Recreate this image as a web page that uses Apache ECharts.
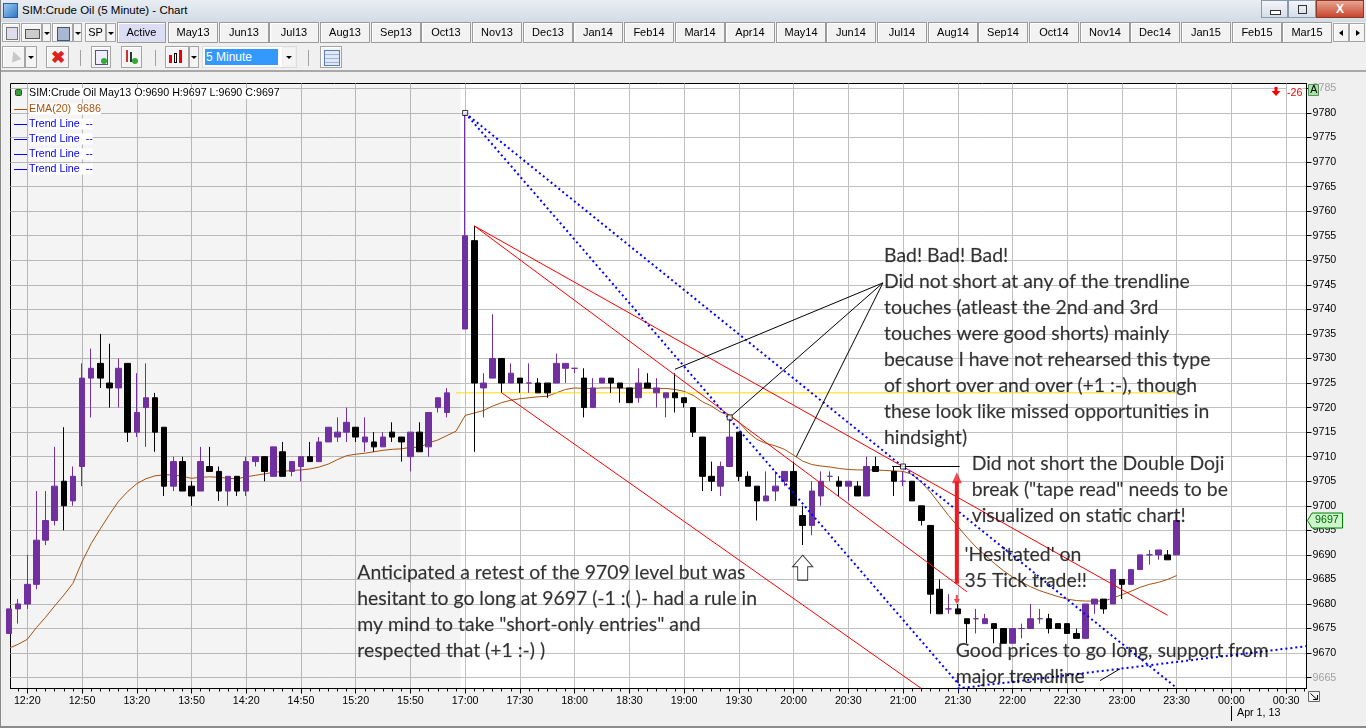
<!DOCTYPE html>
<html>
<head>
<meta charset="utf-8">
<title>SIM:Crude Oil (5 Minute) - Chart</title>
<script src="https://cdn.jsdelivr.net/npm/echarts@6/dist/echarts.min.js"></script>
<style>
  html, body { margin: 0; padding: 0; }
  body { width: 1366px; height: 728px; overflow: hidden; position: relative; background: #f0f0f0;
         font-family: "Liberation Sans", Arial, sans-serif; }
  #chart { position: absolute; left: 0; top: 0; width: 1366px; height: 728px; }
  .ui { position: absolute; box-sizing: border-box; z-index: 5; }
  .wbtn { top: 0; height: 18px; border: 1px solid #8a99ad; background: linear-gradient(#f3f6fa, #d6dee8); }
  .tab { top: 22px; height: 21px; border: 1px solid #9b9b9b; background: #f2f2f2; text-align: center;
         font-size: 11px; line-height: 19px; color: #000; box-shadow: inset 1px 1px 0 #fff; }
  .btn { border: 1px solid #a5a5a5; background: #f4f4f4; box-shadow: inset 1px 1px 0 #fff; }
  .dd { border: 1px solid #a5a5a5; background: #f4f4f4; }
  .dd:after { content: ""; position: absolute; left: 50%; top: 50%; margin: -1px 0 0 -3px;
              border-left: 3px solid transparent; border-right: 3px solid transparent; border-top: 3px solid #000; }
  .sep { width: 1px; background: #a0a0a0; top: 50px; height: 16px; }
</style>
</head>
<body>
<div id="chart"></div>
<div id="ui"></div>
<script>
// ---------------- chart values ----------------
// one entry per 5-minute bar, index 0 = 12:10 ; null = no bar drawn
// [open, high, low, close]
var ohlc = [
  [9674, 9679, 9674, 9679], [9679, 9681, 9676, 9680], [9680, 9690, 9679, 9684], [9684, 9703, 9683, 9693],
  [9693, 9703, 9692, 9697], [9697, 9712, 9696, 9704], [9705, 9716, 9695, 9700], [9701, 9708, 9700, 9706],
  [9708, 9729, 9704, 9726], [9726, 9732, 9718, 9728], [9729, 9735, 9724, 9726], [9725, 9733, 9720, 9724],
  [9724, 9730, 9720, 9728], [9729, 9729, 9713, 9715], [9715, 9727, 9714, 9719], [9720, 9729, 9712, 9722],
  [9722, 9723, 9711, 9715], [9716, 9716, 9702, 9704], [9704, 9710, 9703, 9709], [9709, 9710, 9703, 9703],
  [9704, 9705, 9700, 9702], [9703, 9712, 9703, 9709], [9708, 9712, 9707, 9707], [9707, 9708, 9701, 9703],
  [9703, 9706, 9700, 9706], [9706, 9706, 9702, 9703], [9703, 9710, 9702, 9709], [9709, 9710, 9708, 9710],
  [9710, 9710, 9705, 9707], [9706, 9712, 9706, 9712], [9711, 9713, 9706, 9706], [9707, 9709, 9706, 9709],
  [9708, 9710, 9705, 9710], [9710, 9713, 9709, 9709], [9709, 9714, 9709, 9713], [9713, 9716, 9713, 9716],
  [9714, 9718, 9713, 9715], [9715, 9720, 9713, 9717], [9716, 9716, 9713, 9714], [9713, 9718, 9711, 9714],
  [9713, 9715, 9711, 9712], [9712, 9715, 9712, 9714], [9715, 9717, 9713, 9714], [9714, 9714, 9709, 9713],
  [9710, 9715, 9707, 9715], [9715, 9717, 9711, 9711], [9712, 9719, 9710, 9719], [9720, 9722, 9719, 9722],
  [9719, 9724, 9718, 9723], null,
  [9736, 9780, 9736, 9755], [9754, 9757, 9711, 9725], [9724, 9727, 9718, 9725], [9726, 9739, 9726, 9730],
  [9730, 9730, 9723, 9725], [9725, 9729, 9725, 9727], [9726, 9726, 9723, 9725], [9725, 9729, 9723, 9725],
  [9725, 9726, 9723, 9723], [9725, 9725, 9722, 9723], [9725, 9731, 9725, 9729], [9728, 9729, 9725, 9729],
  [9728, 9728, 9727, 9728], [9726, 9728, 9718, 9720], [9720, 9726, 9720, 9724], [9725, 9726, 9725, 9726],
  [9726, 9726, 9723, 9725], [9725, 9725, 9721, 9724], [9724, 9724, 9721, 9721], [9722, 9728, 9721, 9725],
  [9725, 9727, 9724, 9724], [9723, 9726, 9720, 9724], [9722, 9723, 9718, 9723], [9723, 9727, 9719, 9722],
  [9722, 9722, 9720, 9721], [9720, 9720, 9714, 9715], [9714, 9714, 9703, 9706], [9706, 9709, 9703, 9705],
  [9704, 9709, 9702, 9708], [9708, 9718, 9708, 9714], [9715, 9715, 9705, 9706], [9706, 9707, 9704, 9704],
  [9704, 9704, 9697, 9701], [9701, 9707, 9701, 9702], [9703, 9707, 9701, 9704], [9705, 9707, 9704, 9707],
  [9707, 9709, 9700, 9700], [9698, 9700, 9692, 9696], [9696, 9705, 9694, 9703], [9702, 9707, 9700, 9705],
  [9706, 9707, 9705, 9706], [9705, 9706, 9702, 9704], [9704, 9705, 9701, 9705], [9704, 9705, 9702, 9702],
  [9702, 9710, 9702, 9708], [9708, 9710, 9707, 9707], null,
  [9707, 9708, 9702, 9705], [9705, 9707, 9704, 9705], [9705, 9705, 9701, 9701], [9700, 9700, 9696, 9697],
  [9696, 9696, 9678, 9682], [9683, 9685, 9678, 9678], [9679, 9682, 9678, 9679], [9679, 9680, 9678, 9678],
  [9677, 9677, 9672, 9676], [9677, 9679, 9674, 9677], [9676, 9678, 9676, 9677], [9676, 9676, 9672, 9675],
  [9675, 9675, 9672, 9672], [9672, 9675, 9672, 9675], [9675, 9676, 9673, 9675], [9675, 9680, 9675, 9677],
  [9677, 9679, 9676, 9677], [9677, 9678, 9674, 9675], [9676, 9676, 9675, 9675], [9676, 9676, 9674, 9674],
  [9674, 9675, 9673, 9673], [9673, 9680, 9673, 9680], [9680, 9681, 9678, 9681], [9681, 9681, 9678, 9679],
  [9680, 9687, 9680, 9687], [9685, 9685, 9681, 9684], [9684, 9687, 9684, 9687], [9687, 9690, 9687, 9690],
  [9690, 9691, 9688, 9690], [9690, 9691, 9689, 9691], [9690, 9691, 9689, 9689], [9690, 9697, 9690, 9697]
];

// EMA(20) as drawn, one value per bar
var ema20 = [
  9671.0, 9671.8, 9672.8, 9675.2, 9677.3, 9679.6, 9681.8, 9684.2, 9688.6, 9692.3,
  9695.3, 9698.2, 9700.9, 9702.9, 9704.5, 9705.5, 9706.1, 9706.3, 9706.3, 9706.0,
  9705.6, 9705.8, 9705.9, 9705.8, 9705.6, 9705.5, 9705.9, 9706.2, 9706.5, 9706.8,
  9707.0, 9707.2, 9707.3, 9707.5, 9707.9, 9708.5, 9709.4, 9710.2, 9710.5, 9710.7,
  9711.0, 9711.3, 9711.5, 9711.6, 9711.9, 9711.9, 9712.8, 9713.4, 9714.3, 9715.2,
  9718.4, 9718.9, 9719.4, 9720.3, 9721.0, 9721.5, 9721.8, 9722.0, 9722.2, 9722.3,
  9723.0, 9723.7, 9724.0, 9723.9, 9723.9, 9724.0, 9724.0, 9724.0, 9723.9, 9724.0,
  9723.9, 9723.9, 9723.9, 9723.7, 9723.3, 9722.5, 9721.2, 9720.3, 9719.1, 9718.4,
  9717.1, 9715.0, 9713.5, 9712.7, 9712.2, 9711.5, 9710.3, 9709.1, 9708.4, 9708.1,
  9707.9, 9707.6, 9707.4, 9707.3, 9707.3, 9707.3, 9707.2, 9707.1, 9707.0, 9706.4,
  9704.8, 9702.8, 9700.4, 9698.0, 9695.8, 9693.6, 9691.6, 9689.9, 9688.3, 9686.8,
  9685.5, 9684.4, 9683.5, 9682.7, 9682.1, 9681.5, 9681.0, 9680.7, 9680.6, 9680.6,
  9680.6, 9681.2, 9681.9, 9682.6, 9683.4, 9684.0, 9684.4, 9685.0, 9685.8
];

// time axis labels (bar index -> text)
var tickIdx  = [2, 8, 14, 20, 26, 32, 38, 44, 50, 56, 62, 68, 74, 80, 86, 92, 98, 104, 110, 116, 122, 128, 134, 140];
var tickText = ['12:20', '12:50', '13:20', '13:50', '14:20', '14:50', '15:20', '15:50', '17:00', '17:30', '18:00', '18:30',
                '19:00', '19:30', '20:00', '20:30', '21:00', '21:30', '22:00', '22:30', '23:00', '23:30', '00:00', '00:30'];
// price axis labels
var priceTicks = [9665, 9670, 9675, 9680, 9685, 9690, 9695, 9700, 9705, 9710, 9715, 9720,
                  9725, 9730, 9735, 9740, 9745, 9750, 9755, 9760, 9765, 9770, 9775, 9780, 9785];

// drawing objects, in [bar index, price]
var blueLines  = [[[50, 9780], [104.5, 9662.8]], [[50, 9780], [128, 9662.9]], [[104, 9662.8], [142.2, 9671.4]]];
var redLines   = [[[51, 9757], [127, 9677.7]], [[51, 9757], [105, 9682.5]], [[54, 9723], [100, 9662.8]]];
var blackLines = [[[73, 9727.8], [95.8, 9745.4]], [[79, 9718], [95.8, 9745.4]], [[86.3, 9710], [95.8, 9745.4]],
                  [[96.8, 9708], [104.2, 9708]], [[119.6, 9664.4], [121.8, 9666.8]]];
var levelLine  = [[49, 9723], [128, 9723]];
var anchorPts  = [[50, 9780], [79, 9718], [98, 9708]];
var redArrow   = [[103.9, 9684.1], [103.9, 9705]];
var redArrowHead = [103.9, 9705.7];
var redSmallArrow = [103.9, 9680.9];
var upArrowAt  = [87, 9687.4];

var notes = [
  [95.92, 9753.6, 'Bad! Bad! Bad!\nDid not short at any of the trendline\ntouches (atleast the 2nd and 3rd\ntouches were good shorts) mainly\nbecause I have not rehearsed this type\nof short over and over (+1 :-), though\nthese look like missed opportunities in\nhindsight)'],
  [105.53, 9711.2, 'Did not short the Double Doji\nbreak ("tape read" needs to be\nvisualized on static chart!'],
  [104.74, 9692.7, '\'Hesitated\' on\n35 Tick trade!!'],
  [103.78, 9673.1, 'Good prices to go long, support from\nmajor trendline'],
  [38.18, 9689.1, 'Anticipated a retest of the 9709 level but was\nhesitant to go long at 9697 (-1 :( )- had a rule in\nmy mind to take "short-only entries" and\nrespected that (+1 :-) )']
];

var months = ['May13', 'Jun13', 'Jul13', 'Aug13', 'Sep13', 'Oct13', 'Nov13', 'Dec13', 'Jan14', 'Feb14', 'Mar14', 'Apr14',
              'May14', 'Jun14', 'Jul14', 'Aug14', 'Sep14', 'Oct14', 'Nov14', 'Dec14', 'Jan15', 'Feb15', 'Mar15'];

// ---------------- window chrome ----------------
function ui(cls, x, y, w, h, html, extra) {
    var d = document.createElement('div');
    d.className = 'ui ' + cls;
    d.style.left = x + 'px'; d.style.top = y + 'px';
    if (w != null) d.style.width = w + 'px';
    if (h != null) d.style.height = h + 'px';
    if (html) d.innerHTML = html;
    if (extra) d.style.cssText += extra;
    document.getElementById('ui').appendChild(d);
    return d;
}

function buildChrome() {
    ui('', 0, 0, 1366, 22, '', 'background:linear-gradient(#e8edf3,#d3dbe5);');
    ui('', 3, 3, 15, 15, '', 'background:linear-gradient(135deg,#9ecbf0,#2f77c8);border:1px solid #2c5f9e;');
    ui('', 22, 4, null, null, 'SIM:Crude Oil (5 Minute) - Chart', 'font-size:11.5px;white-space:nowrap;');
    ui('wbtn', 1261, 0, 27, 18, '<div style="position:absolute;left:8px;top:9px;width:9px;height:3px;border:1px solid #333;background:#fff"></div>');
    ui('wbtn', 1288, 0, 28, 18, '<div style="position:absolute;left:9px;top:4px;width:7px;height:7px;border:1px solid #333"></div>');
    ui('wbtn', 1316, 0, 48, 18, 'X', 'background:linear-gradient(#e9a593,#c7452c);border-color:#8b3a2a;color:#fff;font-size:12px;font-weight:bold;text-align:center;line-height:16px;');

    // row 1: buttons and contract tabs
    ui('btn', 2, 23, 18, 19, '<div style="position:absolute;left:3px;top:3px;width:10px;height:11px;background:#dde;border:1px solid #777"></div>');
    ui('btn', 21, 23, 21, 19, '<div style="position:absolute;left:3px;top:5px;width:13px;height:8px;background:#ccc;border:1px solid #555"></div>');
    ui('dd', 42, 23, 9, 19);
    ui('btn', 52, 23, 21, 19, '<div style="position:absolute;left:4px;top:3px;width:11px;height:12px;background:#a9b6d4;border:1px solid #456"></div>');
    ui('dd', 73, 23, 9, 19);
    ui('btn', 85, 23, 21, 19, 'SP', 'font-size:11px;text-align:center;line-height:17px;');
    ui('dd', 106, 23, 10, 19);
    ui('tab', 117, 22, 49, 21, 'Active', 'background:#dcdcf4;');
    for (var i = 0; i < months.length; i++) {
        ui('tab', Math.round(168 + i * 50.65), 22, 50, 21, months[i]);
    }
    ui('btn', 1333, 23, 16, 19, '<div style="position:absolute;left:5px;top:6px;border-top:3px solid transparent;border-bottom:3px solid transparent;border-right:4px solid #000"></div>');
    ui('btn', 1349, 23, 16, 19, '<div style="position:absolute;left:6px;top:6px;border-top:3px solid transparent;border-bottom:3px solid transparent;border-left:4px solid #000"></div>');

    // row 2: drawing tools and bar period
    ui('btn', 2, 46, 23, 22, '<div style="position:absolute;left:7px;top:4px;border-left:5px solid transparent;border-right:5px solid transparent;border-bottom:10px solid #c8c8c8;transform:rotate(-20deg)"></div>');
    ui('dd', 25, 46, 12, 22);
    ui('btn', 46, 46, 23, 22, '<div style="position:absolute;left:4px;top:0px;color:#e02020;font-size:17px;font-weight:bold">&#x2716;</div>');
    ui('sep', 80, 50, 1, 16);
    ui('btn', 91, 46, 20, 22, '<div style="position:absolute;left:3px;top:3px;width:11px;height:13px;border:1px solid #557;background:#eef"></div><div style="position:absolute;left:9px;top:11px;width:6px;height:6px;border-radius:3px;background:#3a3"></div>');
    ui('btn', 121, 46, 21, 22, '<div style="position:absolute;left:4px;top:3px;width:2px;height:12px;background:#c33"></div><div style="position:absolute;left:8px;top:5px;width:2px;height:10px;background:#333"></div><div style="position:absolute;left:10px;top:11px;width:6px;height:6px;border-radius:3px;background:#3a3"></div>');
    ui('sep', 155, 50, 1, 16);
    ui('btn', 165, 46, 24, 22, '<div style="position:absolute;left:3px;top:8px;width:3px;height:8px;background:#e00"></div><div style="position:absolute;left:8px;top:6px;width:3px;height:10px;border:1px solid #000;box-sizing:border-box"></div><div style="position:absolute;left:13px;top:3px;width:3px;height:13px;background:#e00"></div>');
    ui('dd', 189, 46, 10, 22);
    ui('', 202, 46, 95, 22, '', 'background:#fff;border:1px solid #ddd;');
    ui('', 205, 49, 73, 16, '5 Minute', 'background:#3399ff;color:#fff;font-size:12px;line-height:16px;padding-left:1px;');
    ui('dd', 282, 47, 14, 20, '', 'border-color:#eee;background:#f4f4f4;');
    ui('sep', 308, 50, 1, 16);
    ui('btn', 320, 46, 22, 22, '<div style="position:absolute;left:3px;top:3px;width:14px;height:14px;border:1px solid #5b7db4;background:repeating-linear-gradient(#dfe8f6 0 3px,#9fb6da 3px 4px)"></div>');
    ui('', 0, 70, 1366, 2, '', 'background:#a8a8a8;');
    ui('', 0, 0, 1, 728, '', 'background:#8a8a8a;');
    ui('', 0, 726, 1366, 2, '', 'background:#8a8a8a;');
}
buildChrome();

// ---------------- chart ----------------
var PURPLE = '#7030a0';
var EMA_COLOR = '#a8520f';
var X_MIN = 0.158, X_MAX = 142.23;     // bar index range across the plot
var Y_MIN = 9662.79, Y_MAX = 9786.0;   // price range across the plot
var FONT = 'Liberation Sans';

var myChart = echarts.init(document.getElementById('chart'));

function candleData() {
    var out = [];
    for (var i = 0; i < ohlc.length; i++) {
        var d = ohlc[i];
        if (!d) continue;
        var item = { value: [i, d[0], d[3], d[2], d[1]] };
        if (d[0] === d[3]) {
            // dojis are painted purple on this chart
            item.itemStyle = { color: PURPLE, color0: PURPLE, borderColor: PURPLE, borderColor0: PURPLE };
        }
        out.push(item);
    }
    return out;
}

function segSeries(name, seg, color, width, type, z) {
    return {
        name: name, type: 'line', data: seg, symbol: 'none', silent: true, z: z || 4,
        lineStyle: { color: color, width: width, type: type || 'solid' }
    };
}

var minorIdx = [];
for (var k = 1; k <= 142; k++) minorIdx.push(k);

var series = [];
series.push({
    name: 'EMA(20)', type: 'line', symbol: 'none', silent: true, z: 3,
    data: ema20.map(function (v, i) { return [i, v]; }),
    lineStyle: { color: EMA_COLOR, width: 1 },
    markArea: {
        silent: true,
        itemStyle: { color: 'rgba(0,0,0,0.045)' },
        data: [[{ xAxis: X_MIN }, { xAxis: 49.5 }]]
    }
});
series.push({
    name: 'Crude Oil', type: 'candlestick', z: 5,
    encode: { x: 0, y: [1, 2, 3, 4] },
    barWidth: 6,
    data: candleData(),
    itemStyle: { color: PURPLE, color0: '#000', borderColor: PURPLE, borderColor0: '#000', borderColorDoji: PURPLE, borderWidth: 1 }
});
series.push(segSeries('level', levelLine, '#ffdc00', 1, 'solid', 4));
redLines.forEach(function (s, i) { series.push(segSeries('red' + i, s, '#ff0000', 1, 'solid', 6)); });
blueLines.forEach(function (s, i) { series.push(segSeries('blue' + i, s, '#0000ff', 2, [2, 3], 6)); });
blackLines.forEach(function (s, i) { series.push(segSeries('black' + i, s, '#000', 1, 'solid', 6)); });
series.push(segSeries('redArrow', redArrow, '#ed1c24', 4, 'solid', 7));
series.push({
    name: 'arrowHeads', type: 'scatter', silent: true, z: 7,
    data: [
        { value: redArrowHead, symbol: 'triangle', symbolSize: [10, 11] },
        { value: redSmallArrow, symbol: 'path://M2,0 L4,0 L4,4 L6,4 L3,9 L0,4 L2,4 Z', symbolSize: [6, 9] }
    ],
    itemStyle: { color: '#ed1c24' }
});
series.push({
    name: 'upArrow', type: 'scatter', silent: true, z: 7,
    data: [upArrowAt],
    symbol: 'path://M10,0 L20,12 L15,12 L15,26 L5,26 L5,12 L0,12 Z',
    symbolSize: [20, 25],
    itemStyle: { color: '#fff', borderColor: '#000', borderWidth: 1 }
});
series.push({
    name: 'anchors', type: 'scatter', silent: true, z: 8,
    data: anchorPts, symbol: 'rect', symbolSize: 5,
    itemStyle: { color: '#fff', borderColor: '#000', borderWidth: 1 }
});
series.push({
    name: 'notes', type: 'scatter', silent: true, z: 9,
    symbolSize: 0.1, itemStyle: { color: 'rgba(0,0,0,0)' },
    data: notes.map(function (n) { return { value: [n[0], n[1]], name: n[2] }; }),
    label: {
        show: true, position: [0, 0], align: 'left', verticalAlign: 'top',
        formatter: function (p) { return p.name; },
        fontFamily: 'Lato', fontSize: 19.4, lineHeight: 26, color: '#000',
        textBorderColor: 'rgba(0,0,0,0.35)', textBorderWidth: 0.4
    }
});

var option = {
    animation: false,
    backgroundColor: 'transparent',
    grid: { left: 10.5, top: 83.5, width: 1296, height: 605, show: true, backgroundColor: '#fff', borderColor: '#000', borderWidth: 1 },
    xAxis: [{
        type: 'value', min: X_MIN, max: X_MAX, position: 'bottom',
        axisLine: { show: true, lineStyle: { color: '#000' } },
        axisTick: { show: true, length: 5, lineStyle: { color: '#000' }, customValues: tickIdx },
        axisLabel: {
            show: true, customValues: tickIdx, margin: 7, color: '#000', fontFamily: FONT, fontSize: 10.7,
            formatter: function (v) { return tickText[tickIdx.indexOf(Number(v))]; }
        },
        splitLine: { show: true, lineStyle: { color: '#c0c0c0', width: 1 } }
    }, {
        type: 'value', min: X_MIN, max: X_MAX, position: 'bottom',
        axisLine: { show: false },
        axisTick: { show: true, length: 3, lineStyle: { color: '#000' }, customValues: minorIdx },
        axisLabel: { show: false },
        splitLine: { show: false }
    }],
    yAxis: {
        type: 'value', position: 'right', min: Y_MIN, max: Y_MAX, scale: true,
        axisLine: { show: true, lineStyle: { color: '#000' } },
        axisTick: { show: true, length: 5, lineStyle: { color: '#000' }, customValues: priceTicks },
        axisLabel: {
            show: true, customValues: priceTicks, margin: 6, fontFamily: FONT, fontSize: 10.7,
            formatter: function (v) { return String(v); },
            color: function (v) { v = Number(String(v).replace(/,/g, '')); return (v === 9665 || v === 9785) ? '#a0a0a0' : '#000'; }
        },
        splitLine: { show: true, lineStyle: { color: '#c0c0c0', width: 1 } }
    },
    series: series
};
myChart.setOption(option);

// ---------------- overlays: legend, last price tag, corner marks ----------------
var last = ohlc[ohlc.length - 1];
var lastEma = ema20[ema20.length - 1];
var tagY = myChart.convertToPixel({ yAxisIndex: 0 }, last[3]);

function txt(x, y, s, color, size, extra) {
    var st = { text: s, fill: color, font: (size || 10.7) + 'px "' + FONT + '"', align: 'left', verticalAlign: 'middle',
               textAlign: 'left', textVerticalAlign: 'middle' };
    if (extra) for (var k in extra) st[k] = extra[k];
    return { type: 'text', x: x, y: y, z: 100, silent: true, style: st };
}
function seg(x1, y1, x2, y2, color, w) {
    return { type: 'line', z: 100, silent: true, shape: { x1: x1, y1: y1, x2: x2, y2: y2 }, style: { stroke: color, lineWidth: w || 1 } };
}
function bar(x, y, w, h, color) {
    return { type: 'rect', z: 100, silent: true, shape: { x: x, y: y, width: w, height: h }, style: { fill: color } };
}

var g = [];
g.push({ type: 'rect', z: 100, silent: true, shape: { x: 15.5, y: 89.5, width: 6, height: 6, r: 1 }, style: { fill: '#3c9c3c', stroke: '#1d5a1d' } });
g.push(txt(29, 93.5, 'SIM:Crude Oil May13 O:' + last[0] + ' H:' + last[1] + ' L:' + last[2] + ' C:' + last[3], '#000', 10.7, { backgroundColor: '#fff' }));
g.push(bar(14, 109, 13, 1, EMA_COLOR));
g.push(txt(29, 109, 'EMA(20)  ' + Math.round(lastEma), EMA_COLOR, 10.7, { backgroundColor: '#fff' }));
[124, 139, 154, 169].forEach(function (yy) {
    g.push(bar(14, yy, 13, 1, '#0000ff'));
    g.push(txt(29, yy, 'Trend Line  --', '#0000ff', 10.7, { backgroundColor: '#fff' }));
});
// bar-change arrow and "A" flag, top right
g.push({ type: 'polygon', z: 100, silent: true, shape: { points: [[1274.5, 87], [1277.5, 87], [1277.5, 91], [1280.5, 91], [1276, 96], [1271.5, 91], [1274.5, 91]] }, style: { fill: '#ff0000' } });
g.push(txt(1287, 93, '-26', '#ff0000', 10.7, { backgroundColor: '#fff' }));
g.push({ type: 'rect', z: 100, silent: true, shape: { x: 1308.5, y: 84.5, width: 10, height: 11 }, style: { fill: '#a6e3a6', stroke: '#5d8f5d' } });
g.push(txt(1310.3, 90.5, 'A', '#000', 10.7));
// last price tag on the price scale
g.push({ type: 'polygon', z: 100, silent: true, shape: { points: [[1307.5, tagY], [1312, tagY - 7.5], [1342.5, tagY - 7.5], [1342.5, tagY + 7.5], [1312, tagY + 7.5]] }, style: { fill: '#ccf5cc', stroke: '#008000' } });
g.push(txt(1315, tagY, String(last[3]), '#006400', 10.7));
// date marker and corner button
g.push(seg(1231.5, 706, 1231.5, 721, '#000'));
g.push(txt(1237, 713.5, 'Apr 1, 13', '#000', 10.7));
g.push({ type: 'rect', z: 100, silent: true, shape: { x: 1308.5, y: 691.5, width: 11, height: 10 }, style: { fill: '#f4f4f4', stroke: '#666' } });
g.push(seg(1310.5, 693.5, 1317, 699.5, '#000'));
g.push(seg(1313, 699.5, 1317.5, 699.5, '#000'));
g.push(seg(1317.5, 695, 1317.5, 699.5, '#000'));

myChart.setOption({ graphic: g });
</script>
</body>
</html>
